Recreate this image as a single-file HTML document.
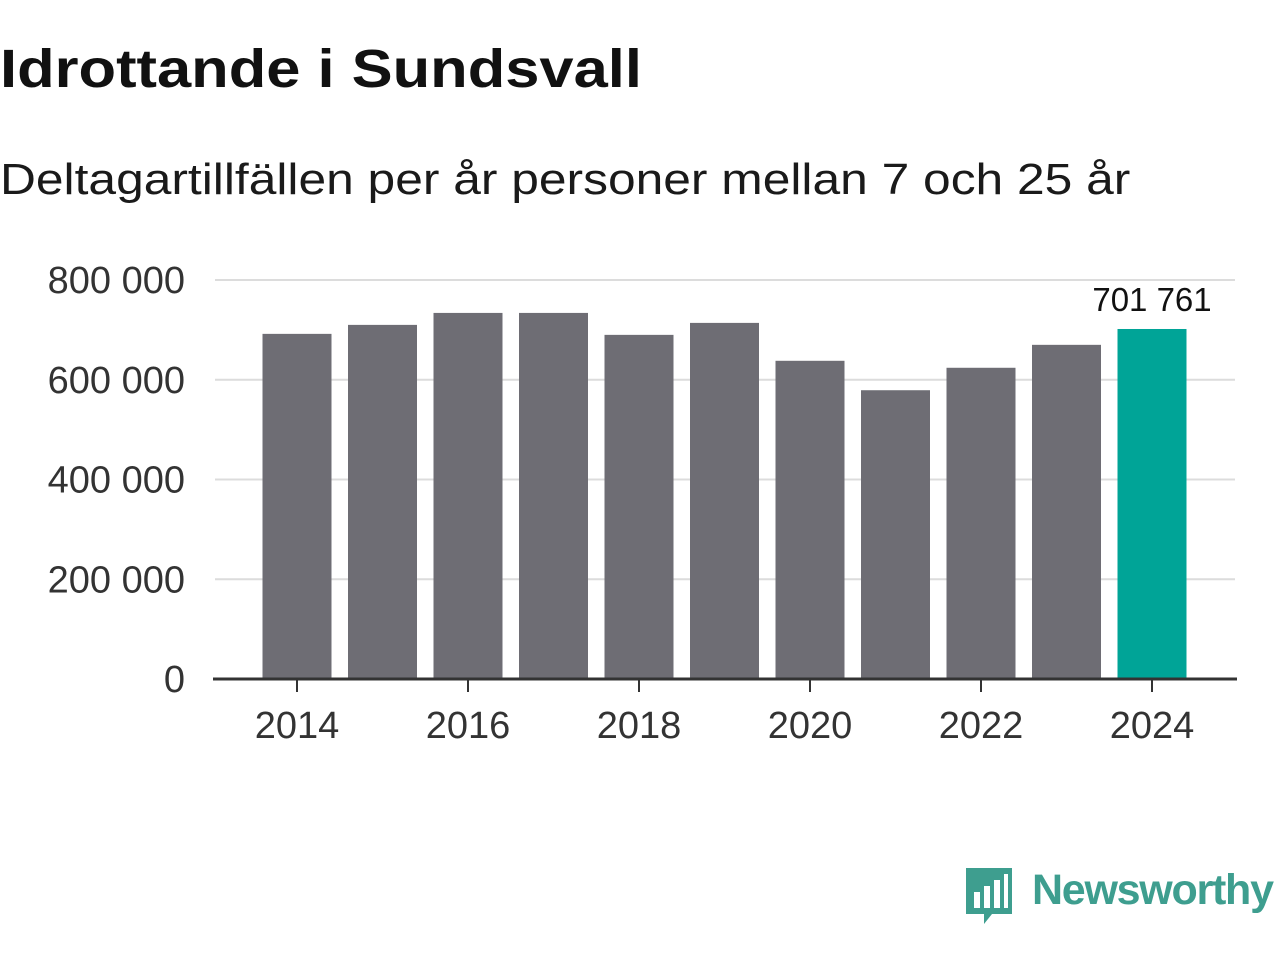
<!DOCTYPE html>
<html><head><meta charset="utf-8"><style>
body{margin:0;width:1280px;height:960px;background:#fff;font-family:"Liberation Sans",sans-serif;overflow:hidden;position:relative}
.t{position:absolute;left:0;top:38px;font-size:54px;font-weight:bold;color:#111;transform:scaleX(1.138);transform-origin:0 0;white-space:nowrap}
.s{position:absolute;left:0;top:155px;font-size:44px;color:#1a1a1a;transform:scaleX(1.13);transform-origin:0 0;white-space:nowrap}
</style></head><body>
<div class="t">Idrottande i Sundsvall</div>
<div class="s">Deltagartillfällen per år personer mellan 7 och 25 år</div>
<svg id="c" width="1280" height="960" style="position:absolute;left:0;top:0"></svg>
<script>
const years=[2014,2015,2016,2017,2018,2019,2020,2021,2022,2023,2024];
const values=[692000,710000,734000,734000,690000,714000,638000,579000,624000,670000,701761];
const yTicks=[0,200000,400000,600000,800000];
const yTickLabels=["0","200 000","400 000","600 000","800 000"];
const xTicks=[2014,2016,2018,2020,2022,2024];
const ns="http://www.w3.org/2000/svg",svg=document.getElementById('c');
const y=v=>679-v*399/800000, x=yr=>297+(yr-2014)*85.5;
function el(t,a){const e=document.createElementNS(ns,t);for(const k in a)e.setAttribute(k,a[k]);svg.appendChild(e);return e;}
yTicks.forEach((v,i)=>{
 if(v>0){const g=el('line',{x1:215,x2:1235,y1:y(v),y2:y(v),stroke:'#dcdcdc','stroke-width':2});
 
 }
 const t=el('text',{x:185,y:y(v)+13,'text-anchor':'end','font-size':38,fill:'#333','font-family':'Liberation Sans, sans-serif'});
 t.textContent=yTickLabels[i];
 
 
});
years.forEach((yr,i)=>{
 const r=el('rect',{x:x(yr)-34.5,y:y(values[i]),width:69,height:679-y(values[i]),fill:yr===2024?'#00a497':'#6e6d74'});
 
 
});
const lv=values[values.length-1];
const lab=el('text',{x:x(2024),y:y(lv)-18,'text-anchor':'middle','font-size':33,fill:'#111','font-family':'Liberation Sans, sans-serif'});
lab.textContent=String(lv).replace(/\B(?=(\d{3})+$)/g,' ');


const ax=el('line',{x1:213,x2:1237,y1:679,y2:679,stroke:'#333','stroke-width':3});


xTicks.forEach(yr=>{
 const tk=el('line',{x1:x(yr),x2:x(yr),y1:679,y2:692,stroke:'#333','stroke-width':2});
 
 
 const t=el('text',{x:x(yr),y:738,'text-anchor':'middle','font-size':38,fill:'#333','font-family':'Liberation Sans, sans-serif'});
 t.textContent=yr;
 
 
});
</script>
<svg width="320" height="80" style="position:absolute;left:960px;top:860px">
<path d="M6 8 h46 v46 h-20 l-8 10 v-10 h-18z" fill="#3e9e8f"/>
<rect x="14" y="32" width="6" height="16" fill="#fff"/><rect x="24" y="26" width="6" height="22" fill="#fff"/><rect x="34" y="20" width="6" height="28" fill="#fff"/><rect x="44" y="14" width="4" height="34" fill="#fff"/>
<text x="72" y="44" font-size="43" font-weight="bold" textLength="242" fill="#3e9e8f" font-family="Liberation Sans, sans-serif">Newsworthy</text>
</svg>
</body></html>
